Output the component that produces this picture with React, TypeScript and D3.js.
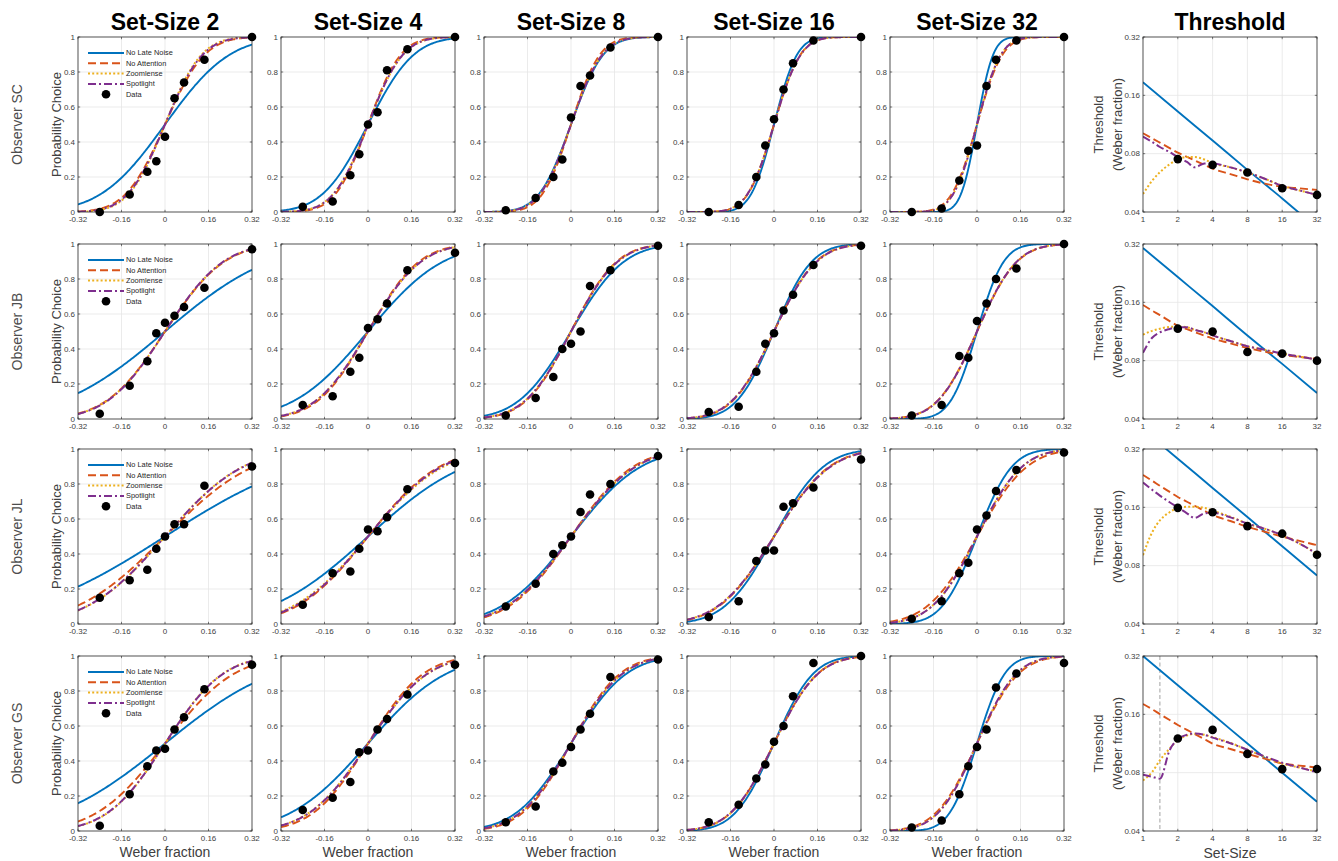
import React, { useRef, useEffect } from "react";
import * as d3 from "d3";

// ---- data ----
const OBSERVERS = ["SC", "JB", "JL", "GS"];
const SET_SIZES = [2, 4, 8, 16, 32];
const MODELS = ["No Late Noise", "No Attention", "Zoomlense", "Spotlight"];

// stimulus levels (Weber fraction) used in every psychometric panel
const WEBER_X = [-0.24, -0.13, -0.065, -0.032, 0, 0.035, 0.07, 0.145, 0.32];
const WEBER_TICKS = [-0.32, -0.16, 0, 0.16, 0.32];
const PROB_TICKS = [0, 0.2, 0.4, 0.6, 0.8, 1];
const SS_TICKS = [1, 2, 4, 8, 16, 32];
const THR_TICKS = [0.04, 0.08, 0.16, 0.32];

// set-sizes where the model threshold curves were read
const THR_SS = [1, 1.2, 1.4, 1.7, 2, 2.4, 2.8, 3.4, 4, 5.7, 8, 11.3, 16, 22.6, 32];

// probability choice, one row per set-size (2,4,8,16,32)
const CHOICE_SC = [
  [0.0, 0.1, 0.23, 0.29, 0.43, 0.65, 0.74, 0.87, 1.0],
  [0.03, 0.06, 0.21, 0.33, 0.5, 0.57, 0.81, 0.93, 1.0],
  [0.01, 0.08, 0.2, 0.3, 0.54, 0.72, 0.78, 0.94, 1.0],
  [0.0, 0.04, 0.2, 0.38, 0.53, 0.7, 0.85, 0.98, 1.0],
  [0.0, 0.02, 0.18, 0.35, 0.38, 0.72, 0.87, 0.98, 1.0],
];
const CHOICE_JB = [
  [0.03, 0.19, 0.33, 0.49, 0.55, 0.59, 0.64, 0.75, 0.97],
  [0.08, 0.13, 0.27, 0.35, 0.52, 0.57, 0.66, 0.85, 0.95],
  [0.02, 0.12, 0.24, 0.4, 0.43, 0.5, 0.76, 0.85, 0.99],
  [0.04, 0.07, 0.27, 0.43, 0.49, 0.62, 0.71, 0.88, 0.99],
  [0.02, 0.08, 0.36, 0.35, 0.56, 0.66, 0.8, 0.86, 1.0],
];
const CHOICE_JL = [
  [0.15, 0.25, 0.31, 0.43, 0.5, 0.57, 0.57, 0.79, 0.9],
  [0.11, 0.29, 0.3, 0.43, 0.54, 0.53, 0.61, 0.77, 0.92],
  [0.1, 0.23, 0.4, 0.45, 0.5, 0.64, 0.74, 0.8, 0.96],
  [0.04, 0.13, 0.36, 0.42, 0.42, 0.67, 0.69, 0.78, 0.94],
  [0.03, 0.13, 0.29, 0.35, 0.54, 0.62, 0.76, 0.88, 0.98],
];
const CHOICE_GS = [
  [0.03, 0.21, 0.37, 0.46, 0.47, 0.58, 0.65, 0.81, 0.95],
  [0.12, 0.19, 0.28, 0.45, 0.46, 0.58, 0.64, 0.78, 0.95],
  [0.05, 0.14, 0.34, 0.39, 0.48, 0.58, 0.67, 0.88, 0.98],
  [0.05, 0.15, 0.3, 0.38, 0.51, 0.6, 0.77, 0.96, 1.0],
  [0.02, 0.06, 0.21, 0.37, 0.48, 0.58, 0.82, 0.9, 0.96],
];

// thresholds: No Late Noise at SS_TICKS, the others at THR_SS
const NOLATE_SC = [0.187, 0.132, 0.0935, 0.066, 0.047, 0.033];
const NOATT_SC = [0.102, 0.096, 0.0912, 0.0855, 0.081, 0.077, 0.0738, 0.07, 0.067, 0.0628, 0.059, 0.056, 0.054, 0.053, 0.052];
const ZOOM_SC = [0.0495, 0.058, 0.0642, 0.0705, 0.0746, 0.0768, 0.0768, 0.0746, 0.0715, 0.068, 0.064, 0.0594, 0.0546, 0.0517, 0.049];
const SPOT_SC = [0.098, 0.0919, 0.0866, 0.0815, 0.0768, 0.0725, 0.068, 0.0711, 0.0711, 0.068, 0.064, 0.0594, 0.0545, 0.0517, 0.049];
const THRDATA_SC = [0.075, 0.07, 0.064, 0.053, 0.049];

const NOLATE_JB = [0.305, 0.216, 0.153, 0.108, 0.077, 0.0545];
const NOATT_JB = [0.155, 0.145, 0.1375, 0.128, 0.121, 0.1163, 0.1123, 0.1077, 0.104, 0.0983, 0.093, 0.089, 0.0855, 0.0836, 0.0818];
const ZOOM_JB = [0.109, 0.114, 0.117, 0.1195, 0.12, 0.119, 0.1155, 0.112, 0.108, 0.101, 0.095, 0.091, 0.087, 0.084, 0.081];
const SPOT_JB = [0.0878, 0.105, 0.112, 0.1166, 0.119, 0.119, 0.1155, 0.112, 0.108, 0.101, 0.095, 0.091, 0.087, 0.084, 0.081];
const THRDATA_JB = [0.117, 0.113, 0.0886, 0.087, 0.08];

const NOLATE_JL = [0.403, 0.285, 0.2015, 0.1425, 0.1008, 0.0712];
const NOATT_JL = [0.235, 0.2195, 0.2066, 0.1923, 0.181, 0.171, 0.163, 0.1535, 0.146, 0.136, 0.127, 0.1197, 0.113, 0.1074, 0.102];
const ZOOM_JL = [0.0906, 0.119, 0.137, 0.151, 0.159, 0.161, 0.161, 0.159, 0.154, 0.143, 0.132, 0.124, 0.115, 0.104, 0.092];
const SPOT_JL = [0.215, 0.197, 0.184, 0.17, 0.16, 0.149, 0.141, 0.149, 0.15, 0.142, 0.132, 0.124, 0.115, 0.104, 0.092];
const THRDATA_JL = [0.159, 0.151, 0.128, 0.117, 0.091];

const NOLATE_GS = [0.32, 0.226, 0.16, 0.113, 0.08, 0.0566];
const NOATT_GS = [0.181, 0.17, 0.1604, 0.1496, 0.141, 0.133, 0.1267, 0.119, 0.113, 0.106, 0.1, 0.0945, 0.0893, 0.087, 0.085];
const ZOOM_GS = [0.073, 0.0806, 0.0927, 0.1065, 0.118, 0.1245, 0.127, 0.1255, 0.122, 0.114, 0.105, 0.0965, 0.089, 0.085, 0.081];
const SPOT_GS = [0.078, 0.0762, 0.0745, 0.1045, 0.119, 0.1255, 0.1275, 0.1255, 0.1213, 0.1135, 0.105, 0.097, 0.09, 0.085, 0.0804];
const THRDATA_GS = [0.12, 0.133, 0.1, 0.0834, 0.0836];
const GS_CUTOFF = 1.4; // dashed vertical marker in GS threshold panel

const ROWS = [
  { name: "SC", choice: CHOICE_SC, models: [NOLATE_SC, NOATT_SC, ZOOM_SC, SPOT_SC], thr: THRDATA_SC, cutoff: null },
  { name: "JB", choice: CHOICE_JB, models: [NOLATE_JB, NOATT_JB, ZOOM_JB, SPOT_JB], thr: THRDATA_JB, cutoff: null },
  { name: "JL", choice: CHOICE_JL, models: [NOLATE_JL, NOATT_JL, ZOOM_JL, SPOT_JL], thr: THRDATA_JL, cutoff: null },
  { name: "GS", choice: CHOICE_GS, models: [NOLATE_GS, NOATT_GS, ZOOM_GS, SPOT_GS], thr: THRDATA_GS, cutoff: GS_CUTOFF },
];

// ---- styles / layout ----
const STYLES = [
  { color: "#0072BD", dash: null, width: 1.9 },
  { color: "#D95319", dash: "8 4", width: 1.9 },
  { color: "#EDB120", dash: "2 2.2", width: 2 },
  { color: "#7E2F8E", dash: "8 3 2 3", width: 2 },
];
const FONT = "Helvetica, Arial, 'Liberation Sans', sans-serif";
const COL_X = [78, 281, 484, 687, 890];
const THR_X = 1143;
const ROW_Y = [37, 244, 449, 656];
const PW = 174;
const PH = 175;
const AX = "#262626";
const TICK_TXT = "#404040";
const GRID = "#e6e6e6";

// standard normal cdf (erf approximation)
function normCdf(z: number) {
  const x = Math.abs(z) / Math.SQRT2;
  const t = 1 / (1 + 0.3275911 * x);
  const y =
    1 -
    ((((1.061405429 * t - 1.453152027) * t + 1.421413741) * t - 0.284496736) * t + 0.254829592) *
      t *
      Math.exp(-x * x);
  return z >= 0 ? 0.5 * (1 + y) : 0.5 * (1 - y);
}

function modelSS(m: number) {
  return m === 0 ? SS_TICKS : THR_SS;
}

function thresholdAt(values: number[], m: number, ss: number) {
  const xs = modelSS(m);
  return values[xs.indexOf(ss)];
}

const App = () => {
  const ref = useRef<SVGSVGElement>(null);

  useEffect(() => {
    const svg = d3.select(ref.current);
    svg.selectAll("*").remove();
    const defs = svg.append("defs");

    const drawBox = (g: any, xTicks: number[], yTicks: number[], x: any, y: any) => {
      g.append("rect")
        .attr("width", PW)
        .attr("height", PH)
        .attr("fill", "none")
        .attr("stroke", AX)
        .attr("stroke-width", 0.8);
      const tl = 2.2;
      xTicks.forEach((t) => {
        const px = x(t);
        g.append("line").attr("x1", px).attr("x2", px).attr("y1", PH).attr("y2", PH - tl).attr("stroke", AX).attr("stroke-width", 0.6);
        g.append("line").attr("x1", px).attr("x2", px).attr("y1", 0).attr("y2", tl).attr("stroke", AX).attr("stroke-width", 0.6);
      });
      yTicks.forEach((t) => {
        const py = y(t);
        g.append("line").attr("x1", 0).attr("x2", tl).attr("y1", py).attr("y2", py).attr("stroke", AX).attr("stroke-width", 0.6);
        g.append("line").attr("x1", PW).attr("x2", PW - tl).attr("y1", py).attr("y2", py).attr("stroke", AX).attr("stroke-width", 0.6);
      });
    };

    const drawGrid = (g: any, xTicks: number[], yTicks: number[], x: any, y: any) => {
      g.selectAll(".gx")
        .data(xTicks)
        .join("line")
        .attr("x1", (d: number) => x(d))
        .attr("x2", (d: number) => x(d))
        .attr("y1", 0)
        .attr("y2", PH)
        .attr("stroke", GRID)
        .attr("stroke-width", 0.8);
      g.selectAll(".gy")
        .data(yTicks)
        .join("line")
        .attr("x1", 0)
        .attr("x2", PW)
        .attr("y1", (d: number) => y(d))
        .attr("y2", (d: number) => y(d))
        .attr("stroke", GRID)
        .attr("stroke-width", 0.8);
    };

    const tickLabels = (g: any, xTicks: number[], yTicks: number[], x: any, y: any) => {
      xTicks.forEach((t) => {
        g.append("text")
          .attr("x", x(t))
          .attr("y", PH + 9.5)
          .attr("text-anchor", "middle")
          .attr("font-size", 8)
          .attr("fill", TICK_TXT)
          .text(String(t));
      });
      yTicks.forEach((t) => {
        g.append("text")
          .attr("x", -3)
          .attr("y", y(t))
          .attr("dy", "0.33em")
          .attr("text-anchor", "end")
          .attr("font-size", 8)
          .attr("fill", TICK_TXT)
          .text(String(t));
      });
    };

    const styleLine = (p: any, m: number) => {
      p.attr("fill", "none")
        .attr("stroke", STYLES[m].color)
        .attr("stroke-width", STYLES[m].width)
        .attr("stroke-dasharray", STYLES[m].dash);
    };

    const xW = d3.scaleLinear().domain([-0.32, 0.32]).range([0, PW]);
    const yP = d3.scaleLinear().domain([0, 1]).range([PH, 0]);
    const xS = d3.scaleLog().base(2).domain([1, 32]).range([0, PW]);
    const yT = d3.scaleLog().base(2).domain([0.04, 0.32]).range([PH, 0]);
    const grid = d3.range(-0.32, 0.3205, 0.004);

    // column titles
    SET_SIZES.forEach((s, c) => {
      svg.append("text")
        .attr("x", COL_X[c] + PW / 2)
        .attr("y", 30)
        .attr("text-anchor", "middle")
        .attr("font-size", 23)
        .attr("font-weight", "bold")
        .attr("fill", "#000")
        .text(`Set-Size ${s}`);
    });
    svg.append("text")
      .attr("x", THR_X + PW / 2)
      .attr("y", 30)
      .attr("text-anchor", "middle")
      .attr("font-size", 23)
      .attr("font-weight", "bold")
      .attr("fill", "#000")
      .text("Threshold");

    ROWS.forEach((row, r) => {
      const top = ROW_Y[r];
      const cy = top + PH / 2;

      svg.append("text")
        .attr("transform", `translate(17,${cy}) rotate(-90)`)
        .attr("text-anchor", "middle")
        .attr("dominant-baseline", "central")
        .attr("font-size", 14)
        .attr("fill", "#4d4d4d")
        .text(`Observer ${row.name}`);
      svg.append("text")
        .attr("transform", `translate(56,${cy}) rotate(-90)`)
        .attr("text-anchor", "middle")
        .attr("dominant-baseline", "central")
        .attr("font-size", 13)
        .attr("fill", "#404040")
        .text("Probability Choice");

      // psychometric panels
      SET_SIZES.forEach((ss, c) => {
        const g = svg.append("g").attr("transform", `translate(${COL_X[c]},${top})`);
        const clipId = `clip-${r}-${c}`;
        defs.append("clipPath").attr("id", clipId).append("rect").attr("width", PW).attr("height", PH);

        drawGrid(g, WEBER_TICKS.slice(1, -1), PROB_TICKS.slice(1, -1), xW, yP);

        const cg = g.append("g").attr("clip-path", `url(#${clipId})`);
        row.models.forEach((vals, m) => {
          const sigma = thresholdAt(vals, m, ss) * Math.SQRT2;
          const line = d3
            .line<number>()
            .x((d) => xW(d))
            .y((d) => yP(normCdf(d / sigma)));
          cg.append("path").attr("d", line(grid)).call(styleLine, m);
        });

        drawBox(g, WEBER_TICKS, PROB_TICKS, xW, yP);
        tickLabels(g, WEBER_TICKS, PROB_TICKS, xW, yP);

        g.selectAll(".dot")
          .data(row.choice[c])
          .join("circle")
          .attr("cx", (d: number, i: number) => xW(WEBER_X[i]))
          .attr("cy", (d: number) => yP(d))
          .attr("r", 4.3)
          .attr("fill", "#000");

        if (c === 0) {
          const lg = g.append("g").attr("transform", "translate(10,16)");
          const entries = [...MODELS, "Data"];
          entries.forEach((name, i) => {
            const yy = i * 10.3;
            if (i < 4) {
              lg.append("line")
                .attr("x1", 0)
                .attr("x2", 36)
                .attr("y1", yy)
                .attr("y2", yy)
                .call(styleLine, i);
            } else {
              lg.append("circle").attr("cx", 18).attr("cy", yy).attr("r", 4.3).attr("fill", "#000");
            }
            lg.append("text")
              .attr("x", 38)
              .attr("y", yy)
              .attr("dy", "0.33em")
              .attr("font-size", 7.4)
              .attr("fill", AX)
              .text(name);
          });
        }

        if (r === ROWS.length - 1) {
          g.append("text")
            .attr("x", PW / 2)
            .attr("y", PH + 26)
            .attr("text-anchor", "middle")
            .attr("font-size", 14)
            .attr("fill", "#404040")
            .text("Weber fraction");
        }
      });

      // threshold panel
      const g = svg.append("g").attr("transform", `translate(${THR_X},${top})`);
      const clipId = `clip-thr-${r}`;
      defs.append("clipPath").attr("id", clipId).append("rect").attr("width", PW).attr("height", PH);
      drawGrid(g, SS_TICKS.slice(1, -1), THR_TICKS.slice(1, -1), xS, yT);

      const cg = g.append("g").attr("clip-path", `url(#${clipId})`);
      if (row.cutoff) {
        cg.append("line")
          .attr("x1", xS(row.cutoff))
          .attr("x2", xS(row.cutoff))
          .attr("y1", 0)
          .attr("y2", PH)
          .attr("stroke", "#8c8c8c")
          .attr("stroke-width", 0.8)
          .attr("stroke-dasharray", "4 2.5");
      }
      row.models.forEach((vals, m) => {
        const xs = modelSS(m);
        const line = d3
          .line<number>()
          .x((d, i) => xS(xs[i]))
          .y((d) => yT(d))
          .curve(d3.curveMonotoneX);
        cg.append("path").attr("d", line(vals)).call(styleLine, m);
      });
      drawBox(g, SS_TICKS, THR_TICKS, xS, yT);
      tickLabels(g, SS_TICKS, THR_TICKS, xS, yT);
      g.selectAll(".dot")
        .data(row.thr)
        .join("circle")
        .attr("cx", (d: number, i: number) => xS(SET_SIZES[i]))
        .attr("cy", (d: number) => yT(d))
        .attr("r", 4.3)
        .attr("fill", "#000");

      svg.append("text")
        .attr("transform", `translate(1098,${cy}) rotate(-90)`)
        .attr("text-anchor", "middle")
        .attr("dominant-baseline", "central")
        .attr("font-size", 13)
        .attr("fill", "#404040")
        .text("Threshold");
      svg.append("text")
        .attr("transform", `translate(1117,${cy}) rotate(-90)`)
        .attr("text-anchor", "middle")
        .attr("dominant-baseline", "central")
        .attr("font-size", 13)
        .attr("fill", "#404040")
        .text("(Weber fraction)");

      if (r === ROWS.length - 1) {
        g.append("text")
          .attr("x", PW / 2)
          .attr("y", PH + 27)
          .attr("text-anchor", "middle")
          .attr("font-size", 14)
          .attr("fill", "#404040")
          .text("Set-Size");
      }
    });
  }, []);

  return (
    <svg
      ref={ref}
      width={1338}
      height={861}
      style={{ position: "absolute", left: 0, top: 0, background: "#fff", fontFamily: FONT }}
    />
  );
};

export default App;
